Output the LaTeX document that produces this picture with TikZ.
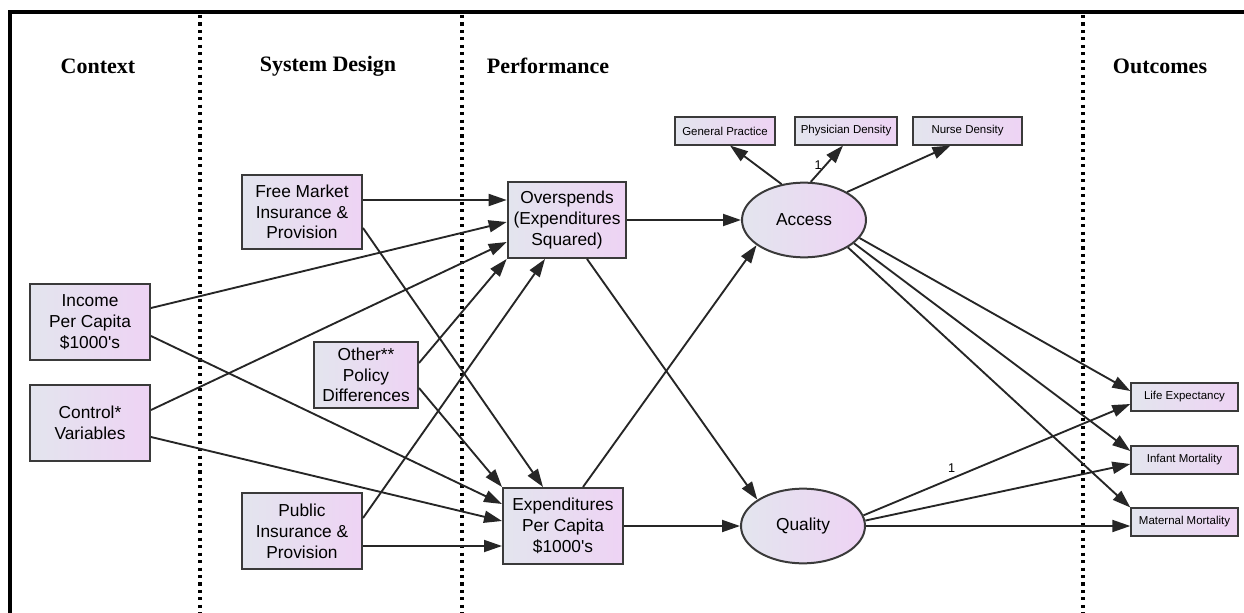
\documentclass[tikz,border=0pt]{standalone}
\usepackage{fontspec}
\usetikzlibrary{shapes.geometric,arrows.meta,calc}
\newfontfamily\sansfam{Liberation Sans}
\newfontfamily\seriffam{Liberation Serif}
\newcommand\bxfont{\sansfam\fontsize{13}{15.6}\selectfont}
\newcommand\smfont{\sansfam\fontsize{8.6}{10}\selectfont}
\newcommand\hdfont{\seriffam\bfseries\fontsize{16.5}{19}\selectfont}
\definecolor{fillL}{HTML}{E3E5EE}
\definecolor{fillR}{HTML}{EED3F4}
\definecolor{boxline}{HTML}{3A3A3A}
\definecolor{lineC}{HTML}{262626}
\tikzset{
  box/.style={draw=boxline, line width=1.5pt, left color=fillL, right color=fillR, font=\bxfont, align=center, inner sep=1pt},
  smallbox/.style={draw=boxline, line width=1.3pt, left color=fillL, right color=fillR, font=\smfont, inner sep=1pt, minimum height=20.5pt},
  latent/.style={ellipse, draw=boxline, line width=1.5pt, left color=fillL, right color=fillR, font=\bxfont, minimum width=93pt, minimum height=56pt, inner sep=0pt},
  arr/.style={draw=lineC, line width=1.4pt, -{Triangle[length=13.5pt,width=9pt]}},
  divider/.style={line width=2.6pt, dash pattern=on 2.3pt off 3.3pt},
  hdr/.style={font=\hdfont, inner sep=0pt},
  lbl/.style={font=\sansfam\fontsize{9.5}{11}\selectfont, inner sep=0pt}
}
\begin{document}
\begin{tikzpicture}[x=0.75pt, y=-0.75pt]
\useasboundingbox (0,0) rectangle (1244,613);
\fill[white] (0,0) rectangle (1244,613);
% frame
\draw[line width=2.3pt] (10,620) -- (10,12) -- (1250,12);
% dividers
\draw[divider] (200,15) -- (200,613);
\draw[divider] (462,15) -- (462,613);
\draw[divider] (1083,15) -- (1083,613);
% headers
\node[hdr] (hctx) at (98,66) {Context};
\node[hdr] (hsys) at (328,66) {System Design};
\node[hdr] (hperf) at (548,66) {Performance};
\node[hdr] (hout) at (1160,66) {Outcomes};
% boxes
\node[box, minimum width=90pt, minimum height=56pt] (fm) at (302,212) {Free Market\\Insurance \&\\Provision};
\node[box, minimum width=90pt, minimum height=57pt] (inc) at (90,322) {Income\\Per Capita\\\$1000's};
\node[box, minimum width=90pt, minimum height=57pt] (ctl) at (90,423) {Control*\\Variables};
\node[box, minimum width=78pt, minimum height=49.5pt] (oth) at (366,375) {Other**\\Policy\\Differences};
\node[box, minimum width=90pt, minimum height=57pt] (pub) at (302,531) {Public\\Insurance \&\\Provision};
\node[box, minimum width=89pt, minimum height=57pt] (over) at (567,220) {Overspends\\(Expenditures\\Squared)};
\node[box, minimum width=90pt, minimum height=57pt] (exp) at (563,526) {Expenditures\\Per Capita\\\$1000's};
\node[latent] (acc) at (804,220) {Access};
\node[latent] (qual) at (803,526) {Quality};
\node[smallbox, minimum width=75pt] (gp) at (725,131) {General Practice};
\node[smallbox, minimum width=76.5pt] (pd) at (846,131) {Physician Density};
\node[smallbox, minimum width=82pt] (nd) at (967.5,131) {Nurse Density};
\node[smallbox, minimum width=80pt] (life) at (1184.5,397) {Life Expectancy};
\node[smallbox, minimum width=80pt] (inf) at (1184.5,460) {Infant Mortality};
\node[smallbox, minimum width=80pt] (mat) at (1184.5,522) {Maternal Mortality};
% connectors into Overspends / Expenditures
\draw[arr] ($(fm.east)+(0,-12)$) -- ($(over.west)+(0,-20)$);
\draw[arr] ($(fm.east)+(0,16)$) -- ($(exp.north)+(-20,0)$);
\draw[arr] ($(inc.east)+(0,-14)$) -- ($(over.west)+(0,2)$);
\draw[arr] ($(inc.east)+(0,14)$) -- ($(exp.west)+(0,-22)$);
\draw[arr] ($(ctl.east)+(0,-13)$) -- ($(over.west)+(0,22)$);
\draw[arr] ($(ctl.east)+(0,14)$) -- ($(exp.west)+(0,-5)$);
\draw[arr] ($(oth.east)+(0,-12)$) -- (over.south west);
\draw[arr] ($(oth.east)+(0,13)$) -- (exp.north west);
\draw[arr] ($(pub.east)+(0,-13)$) -- ($(over.south)+(-22,0)$);
\draw[arr] ($(pub.east)+(0,15)$) -- ($(exp.west)+(0,20)$);
% performance to latent
\draw[arr] (over.east) -- (acc.west);
\draw[arr] ($(over.south)+(20,0)$) -- (qual.150);
\draw[arr] ($(exp.north)+(20,0)$) -- (acc.208);
\draw[arr] (exp.east) -- (qual.west);
% access indicators
\draw[arr] (acc.122) -- ($(gp.south)+(5,0)$);
\draw[arr] (acc.80) -- ($(pd.south)+(-3,0)$) node[lbl, pos=0.45, left=2pt] (l1) {1};
\draw[arr] (acc.33) -- ($(nd.south)+(-17,0)$);
% outcomes
\draw[arr] (acc.-18) -- ($(life.west)+(0,-6)$);
\draw[arr] (acc.-25) -- ($(inf.west)+(0,-9)$);
\draw[arr] (acc.-32) -- (mat.north west);
\draw[arr] (qual.10) -- ($(life.west)+(0,7)$) node[lbl, pos=0.33, above=4pt] (l2) {1};
\draw[arr] (qual.5) -- ($(inf.west)+(0,4)$);
\draw[arr] (qual.east) -- ($(mat.west)+(0,4)$);
\end{tikzpicture}
\end{document}
